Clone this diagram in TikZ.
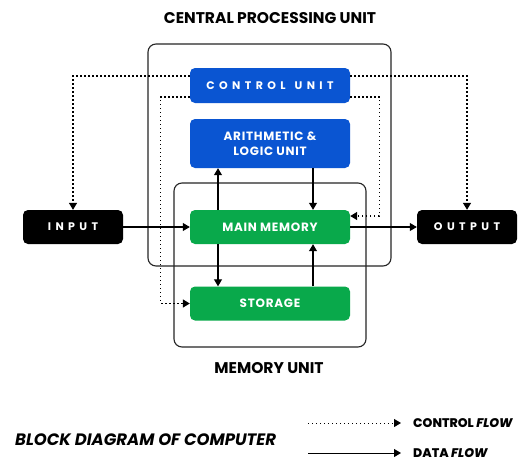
\documentclass[tikz,border=0pt]{standalone}
\usepackage{fontspec}
\setmainfont{Poppins}
\newfontfamily\wide{Poppins}[LetterSpace=40]
\newfontfamily\slightwide{Poppins}[LetterSpace=6]
\newfontfamily\heavy{Poppins ExtraBold}[ItalicFont=Poppins ExtraBold Italic]
\usetikzlibrary{arrows.meta}
\definecolor{cpublue}{HTML}{0A55D2}
\definecolor{memgreen}{HTML}{09A94B}
\tikzset{
  frame/.style={draw=black!85, line width=1.1pt, rounded corners=8pt},
  unitbox/.style={minimum width=160pt, minimum height=34pt, rounded corners=5pt,
    text=white, font=\bfseries, inner sep=0pt, align=center},
  blue box/.style={unitbox, fill=cpublue},
  green box/.style={unitbox, fill=memgreen, font=\slightwide\bfseries\fontsize{12}{14}\selectfont},
  io box/.style={unitbox, fill=black, minimum width=100pt,
    font=\wide\bfseries\fontsize{11}{13}\selectfont},
  tip/.style={-{Triangle[length=7pt,width=8pt]}},
  data/.style={tip, draw=black, line width=1.1pt},
  ctrl/.style={tip, draw=black, line width=1.3pt, dash pattern=on 1.4pt off 2.6pt},
  heading/.style={font=\bfseries\fontsize{15.5}{18}\selectfont, inner sep=0pt},
  legend text/.style={anchor=west, inner sep=0pt, font=\heavy\fontsize{12.5}{14}\selectfont},
}
\begin{document}
\begin{tikzpicture}[x=1pt, y=-1pt]
\useasboundingbox (0,0) rectangle (518,460);
\fill[white] (0,0) rectangle (518,460);

% outer frames: processor and memory
\draw[frame] (148,44) rectangle (391,266);
\draw[frame] (174,183) rectangle (366,347);

% units
\node[blue box, minimum height=35pt, font=\wide\bfseries\fontsize{11}{13}\selectfont] (cu) at (270,85.5) {CONTROL\hspace{9pt}UNIT};
\node[blue box, minimum height=49pt, font=\slightwide\bfseries\fontsize{12}{15}\selectfont] (alu) at (270,143.5) {ARITHMETIC \&\\LOGIC UNIT};
\node[green box] (mm) at (270,227) {MAIN MEMORY};
\node[green box] (st) at (270,303.5) {STORAGE};
\node[io box] (in) at (73,227) {INPUT};
\node[io box] (out) at (467,227) {OUTPUT};

% control flow
\draw[ctrl] ([yshift=9.5pt]cu.west) -| (in.north);
\draw[ctrl] ([yshift=9.5pt]cu.east) -| (out.north);
\draw[ctrl] ([yshift=-11.5pt]cu.west) -| ([xshift=-29pt]st.west) -- (st.west);
\draw[ctrl] ([yshift=-11.5pt]cu.east) -| ([xshift=29pt,yshift=11pt]mm.east) -- ([yshift=11pt]mm.east);

% data flow
\draw[data] (in.east) -- (mm.west);
\draw[data] (mm.east) -- (out.west);
\draw[data] ([xshift=-52pt]mm.north) -- ([xshift=-52pt]alu.south);
\draw[data] ([xshift=-52pt]mm.south) -- ([xshift=-52pt]st.north);
\draw[data] ([xshift=43pt]alu.south) -- ([xshift=43pt]mm.north);
\draw[data] ([xshift=43pt]st.north) -- ([xshift=43pt]mm.south);

% headings
\node[heading] (cpuT) at (270,18) {CENTRAL PROCESSING UNIT};
\node[heading] (memT) at (269,368) {MEMORY UNIT};
\node[heading, anchor=west, font=\bfseries\itshape\fontsize{16.5}{19}\selectfont] (title) at (15,440) {BLOCK DIAGRAM OF COMPUTER};

% legend
\coordinate (c1) at (308,423);
\coordinate (c2) at (401,423);
\coordinate (d1) at (308,453);
\coordinate (d2) at (401,453);
\draw[ctrl, line width=1pt] (c1) -- (c2);
\draw[data, line width=1pt] (d1) -- (d2);
\node[legend text] (lc) at (413,423) {CONTROL \textit{FLOW}};
\node[legend text] (ld) at (413,453) {DATA \textit{FLOW}};
\end{tikzpicture}
\end{document}
